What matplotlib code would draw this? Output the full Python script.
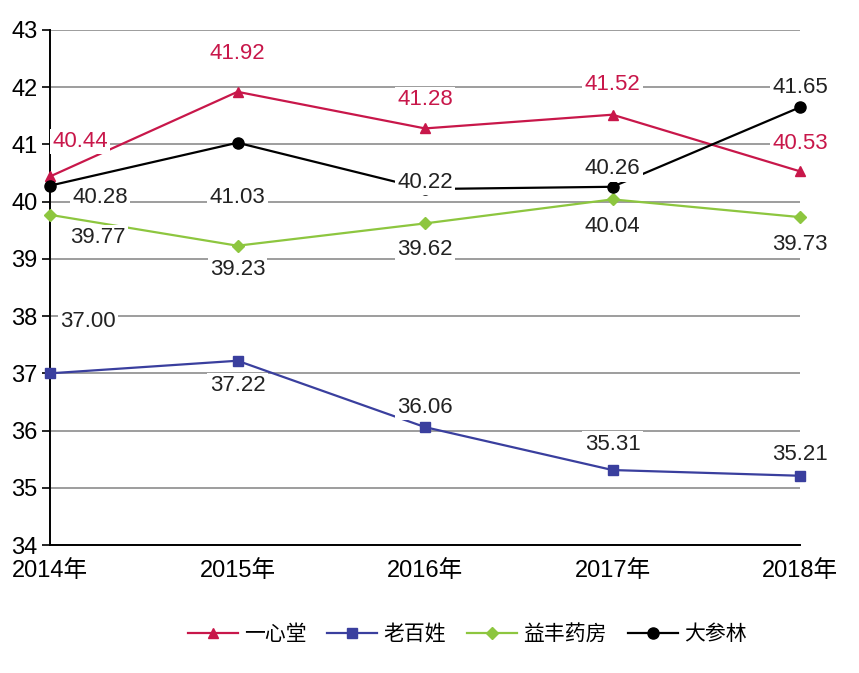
import matplotlib.pyplot as plt

plt.rcParams['font.family'] = ['Liberation Sans', 'Noto Sans CJK SC', 'DejaVu Sans']

years = ['2014年', '2015年', '2016年', '2017年', '2018年']
yixintang = [40.44, 41.92, 41.28, 41.52, 40.53]
laobaixing = [37.00, 37.22, 36.06, 35.31, 35.21]
yifeng = [39.77, 39.23, 39.62, 40.04, 39.73]
dashenlin = [40.28, 41.03, 40.22, 40.26, 41.65]

fig = plt.figure(figsize=(8.59, 6.73), dpi=100)
ax = fig.add_axes([50 / 859, 1 - 545 / 673, 750 / 859, 515 / 673])
x = list(range(len(years)))

series = [
    ('一心堂', yixintang, '#C8174A', '^', 7),
    ('老百姓', laobaixing, '#3A3F9E', 's', 7),
    ('益丰药房', yifeng, '#8DC63F', 'D', 6),
    ('大参林', dashenlin, '#000000', 'o', 8),
]
for name, vals, color, marker, ms in series:
    ax.plot(x, vals, color=color, marker=marker, markersize=ms, lw=1.6,
            label=name, clip_on=False, zorder=3)

# label offsets in pixels (dx, dy up)
offsets = {
    '一心堂': [(30, 35), (0, 38), (0, 29), (0, 30), (0, 28)],
    '老百姓': [(38, 52), (0, -25), (0, 20), (0, 26), (0, 21)],
    '益丰药房': [(48, -23), (0, -24), (0, -26), (0, -27), (0, -27)],
    '大参林': [(50, -12), (0, -55), (0, 7), (0, 18), (0, 20)],
}
text_colors = {'一心堂': '#C8174A', '老百姓': '#222222',
               '益丰药房': '#222222', '大参林': '#222222'}
for name, vals, color, marker, ms in series:
    for i, v in enumerate(vals):
        dx, dy = offsets[name][i]
        ax.annotate(f'{v:.2f}', (i, v), xytext=(dx, dy), textcoords='offset pixels',
                    ha='center', va='center', fontsize=16, color=text_colors[name],
                    bbox=dict(boxstyle='square,pad=0.1', fc='white', ec='none'),
                    zorder=4)

ax.set_xlim(0, 4)
ax.set_ylim(34, 43)
ax.set_yticks(range(34, 44))
ax.set_xticks(x)
ax.set_xticklabels(years)
ax.grid(axis='y', color='#8c8c8c', lw=1.2)
ax.set_axisbelow(True)
for s in ['top', 'right']:
    ax.spines[s].set_visible(False)
ax.spines['left'].set_linewidth(1.4)
ax.spines['bottom'].set_linewidth(1.4)
ax.tick_params(axis='y', length=6, width=1.2, labelsize=17, pad=3)
ax.tick_params(axis='x', length=0, labelsize=17, pad=11)

fig.legend(loc='center', bbox_to_anchor=(467 / 859, 1 - 634 / 673), ncol=4,
           frameon=False, fontsize=15, handlelength=2.4, columnspacing=1.0,
           handletextpad=0.3)

fig.savefig('out.png', dpi=100)
